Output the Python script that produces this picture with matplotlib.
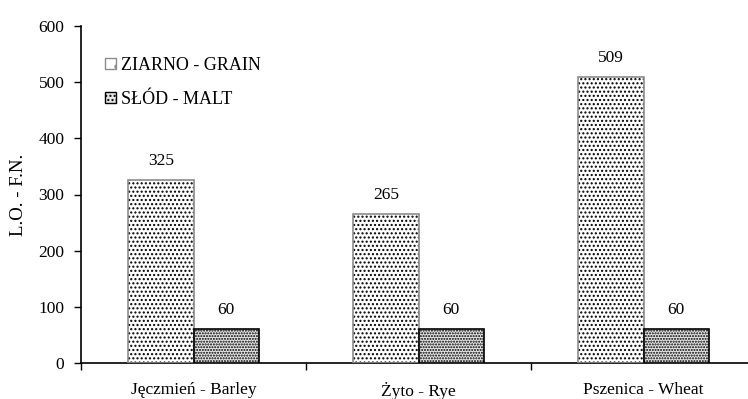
import numpy as np
import matplotlib.pyplot as plt
import matplotlib as mpl

plt.rcParams['font.family'] = ['Liberation Serif', 'DejaVu Serif']
plt.rcParams['hatch.linewidth'] = 1.0

# data
categories = ['Jęczmień - Barley', 'Żyto - Rye', 'Pszenica - Wheat']
grain = [325, 265, 509]
malt = [60, 60, 60]
series_names = ['ZIARNO - GRAIN', 'SŁÓD - MALT']

fs = 12.5
fig = plt.figure(figsize=(7.48, 3.99), dpi=100)
ax = fig.add_axes([81/748, 36/399, 675/748, 337/399])

x = np.arange(len(categories))
w = 0.29

# grain bars: small black dots, gray outline
ax.bar(x - w/2, grain, w, color='white', edgecolor='black', linewidth=0,
       hatch='....', zorder=2)
ax.bar(x - w/2, grain, w, color='none', edgecolor='#8c8c8c', linewidth=1.2,
       zorder=3)
# malt bars: dense dots, black outline
ax.bar(x + w/2, malt, w, color='#e6e6e6', edgecolor='black', linewidth=1.2,
       hatch='......', zorder=3)

for xi, v in zip(x - w/2, grain):
    ax.annotate(str(v), (xi, v), xytext=(0, 8), textcoords='offset points',
                ha='center', va='bottom', fontsize=fs)
for xi, v in zip(x + w/2, malt):
    ax.annotate(str(v), (xi, v), xytext=(0, 8), textcoords='offset points',
                ha='center', va='bottom', fontsize=fs)

ax.set_xlim(-0.5, 2.5)
ax.set_ylim(0, 600)
ax.set_yticks(np.arange(0, 601, 100))
ax.set_xticks(x)
ax.set_xticklabels(categories, fontsize=fs)
ax.set_xticks([-0.5, 0.5, 1.5], minor=True)
ax.tick_params(axis='x', which='major', length=0, pad=14)
ax.tick_params(axis='x', which='minor', length=5, direction='out', width=1)
ax.tick_params(axis='y', labelsize=fs, length=5, width=1, direction='out', pad=7)
ax.set_ylabel('L.O. - F.N.', fontsize=13.5, labelpad=8)

for s in ['top', 'right']:
    ax.spines[s].set_visible(False)
ax.spines['left'].set_linewidth(1.2)
ax.spines['bottom'].set_linewidth(1.2)

h1 = mpl.patches.Patch(facecolor='white', edgecolor='#8c8c8c', hatch='.')
h2 = mpl.patches.Patch(facecolor='#e6e6e6', edgecolor='black', hatch='....')
ax.legend([h1, h2], series_names, loc='upper left', bbox_to_anchor=(0.025, 0.93),
          frameon=False, fontsize=13, handlelength=0.6, handleheight=0.6,
          handletextpad=0.3, labelspacing=0.95, borderaxespad=0)

fig.savefig('out.png', dpi=100)
